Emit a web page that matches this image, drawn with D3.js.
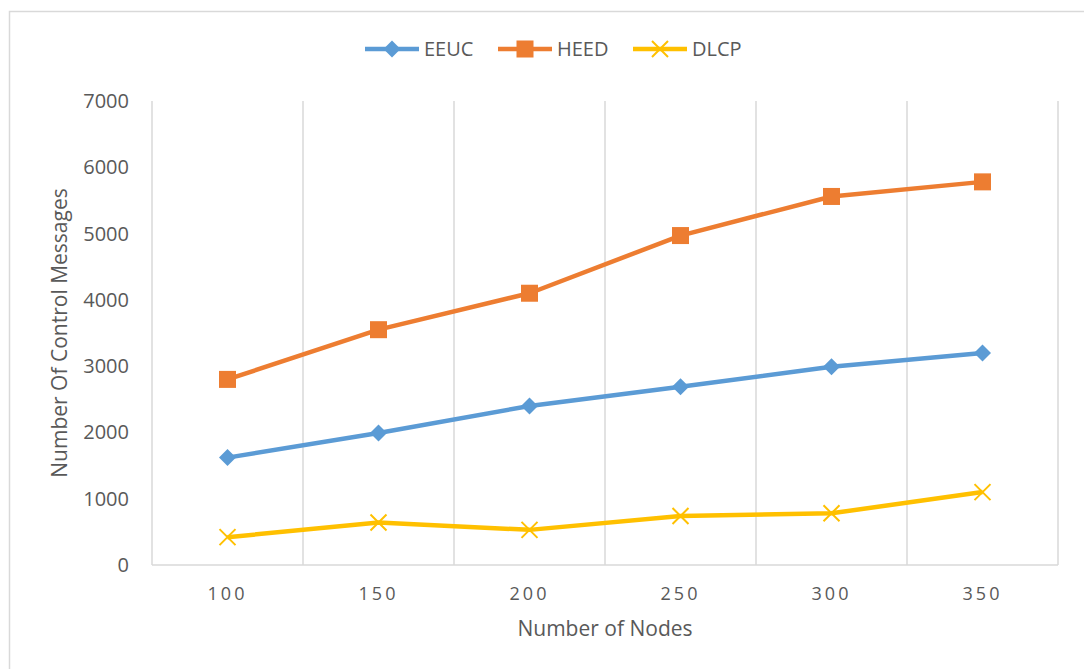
<!DOCTYPE html>
<html>
<head>
<meta charset="utf-8">
<script src="https://cdn.jsdelivr.net/npm/d3@7"></script>
<style>
	body { margin: 0; background: #fff; }
	svg text { font-family: "Open Sans", "Liberation Sans", sans-serif; fill: #595959; }
</style>
</head>
<body>
<svg id="chart" width="1084" height="669"></svg>
<script>
'use strict';

// Values
var node_counts = ['100', '150', '200', '250', '300', '350'];
var eeuc_values = [1620, 1990, 2400, 2690, 2990, 3200];
var heed_values = [2800, 3550, 4100, 4970, 5560, 5780];
var dlcp_values = [420, 640, 530, 740, 780, 1100];
var y_ticks = [0, 1000, 2000, 3000, 4000, 5000, 6000, 7000];

var series = [
	{ name: 'EEUC', values: eeuc_values, colour: '#5B9BD5', marker: 'diamond' },
	{ name: 'HEED', values: heed_values, colour: '#ED7D31', marker: 'square' },
	{ name: 'DLCP', values: dlcp_values, colour: '#FFC000', marker: 'cross' }
];

var svg = d3.select('#chart');
var plot = { left: 152, right: 1058, top: 101, bottom: 565 };

// Outer chart border
svg.append('rect')
	.attr('x', 9.5).attr('y', 11.5)
	.attr('width', 1090).attr('height', 700)
	.attr('fill', 'none')
	.attr('stroke', '#d9d9d9')
	.attr('stroke-width', 1.5);

var x_band = d3.scaleBand()
	.domain(node_counts)
	.range([plot.left, plot.right]);

var y_scale = d3.scaleLinear()
	.domain([0, 7000])
	.range([plot.bottom, plot.top]);

// Vertical gridlines on category boundaries
var boundaries = node_counts.map(function(d) { return x_band(d); }).concat([plot.right]);
svg.selectAll('line.grid')
	.data(boundaries)
	.enter().append('line')
	.attr('class', 'grid')
	.attr('x1', function(d) { return d; })
	.attr('x2', function(d) { return d; })
	.attr('y1', plot.top)
	.attr('y2', plot.bottom)
	.attr('stroke', '#d9d9d9')
	.attr('stroke-width', 1.5);

// Horizontal axis line
svg.append('line')
	.attr('x1', plot.left).attr('x2', plot.right)
	.attr('y1', plot.bottom).attr('y2', plot.bottom)
	.attr('stroke', '#d9d9d9')
	.attr('stroke-width', 1.5);

// Y tick labels
svg.selectAll('text.ytick')
	.data(y_ticks)
	.enter().append('text')
	.attr('class', 'ytick')
	.attr('x', 129)
	.attr('y', function(d) { return y_scale(d) + 7; })
	.attr('text-anchor', 'end')
	.style('font-size', '20px')
	.text(function(d) { return d; });

// X tick labels
svg.selectAll('text.xtick')
	.data(node_counts)
	.enter().append('text')
	.attr('class', 'xtick')
	.attr('x', function(d) { return x_band(d) + x_band.bandwidth() / 2; })
	.attr('y', 600)
	.attr('text-anchor', 'middle')
	.style('font-size', '18px')
	.style('letter-spacing', '3px')
	.text(function(d) { return d; });

// Axis titles
svg.append('text')
	.attr('x', (plot.left + plot.right) / 2)
	.attr('y', 636)
	.attr('text-anchor', 'middle')
	.style('font-size', '21px')
	.text('Number of Nodes');

svg.append('text')
	.attr('transform', 'translate(67,' + ((plot.top + plot.bottom) / 2) + ') rotate(-90)')
	.attr('text-anchor', 'middle')
	.style('font-size', '21px')
	.text('Number Of Control Messages');

function drawMarker(g, type, colour) {
	if (type === 'diamond') {
		g.append('path')
			.attr('d', 'M0,-8.5L8.5,0L0,8.5L-8.5,0Z')
			.attr('fill', colour);
	} else if (type === 'square') {
		g.append('rect')
			.attr('x', -8.5).attr('y', -8.5)
			.attr('width', 17).attr('height', 17)
			.attr('fill', colour);
	} else {
		g.append('path')
			.attr('d', 'M-8,-8L8,8M-8,8L8,-8')
			.attr('stroke', colour)
			.attr('stroke-width', 2)
			.attr('fill', 'none');
	}
}

var line = d3.line()
	.x(function(d, i) { return x_band(node_counts[i]) + x_band.bandwidth() / 2; })
	.y(function(d) { return y_scale(d); });

series.forEach(function(s) {
	svg.append('path')
		.datum(s.values)
		.attr('d', line)
		.attr('fill', 'none')
		.attr('stroke', s.colour)
		.attr('stroke-width', 4.5)
		.attr('stroke-linejoin', 'round');

	s.values.forEach(function(v, i) {
		var g = svg.append('g')
			.attr('transform', 'translate(' + (x_band(node_counts[i]) + x_band.bandwidth() / 2) + ',' + y_scale(v) + ')');
		drawMarker(g, s.marker, s.colour);
	});
});

// Legend
var legend_x = [365, 498, 633];
series.forEach(function(s, i) {
	var lg = svg.append('g').attr('transform', 'translate(' + legend_x[i] + ',49)');
	lg.append('line')
		.attr('x1', 0).attr('x2', 54)
		.attr('stroke', s.colour)
		.attr('stroke-width', 4.5);
	var m = lg.append('g').attr('transform', 'translate(27,0)');
	drawMarker(m, s.marker, s.colour);
	lg.append('text')
		.attr('x', 59)
		.attr('y', 7)
		.style('font-size', '20px')
		.text(s.name);
});
</script>
</body>
</html>
